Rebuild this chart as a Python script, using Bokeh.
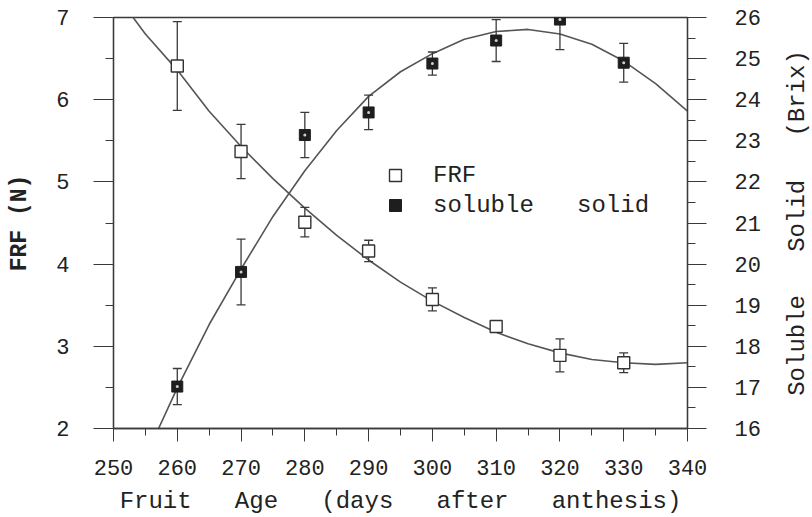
import math
from bokeh.plotting import figure
from bokeh.layouts import row
from bokeh.models import Range1d, LinearAxis, FixedTicker, Legend, LegendItem
from bokeh.embed import file_html
from bokeh.resources import INLINE

# ---- data ----
age = [260, 270, 280, 290, 300, 310, 320, 330]
frf = [6.41, 5.37, 4.51, 4.16, 3.57, 3.24, 2.89, 2.80]
frf_err = [0.54, 0.33, 0.18, 0.13, 0.14, 0.05, 0.20, 0.12]
brix = [17.02, 19.81, 23.14, 23.69, 24.88, 25.44, 25.95, 24.90]
brix_err = [0.44, 0.80, 0.55, 0.42, 0.28, 0.51, 0.73, 0.47]

# fitted curves, every 5 days
fit_age = [250, 255, 260, 265, 270, 275, 280, 285, 290, 295, 300, 305, 310, 315, 320, 325, 330, 335, 340]
frf_fit = [7.32, 6.80, 6.36, 5.86, 5.43, 5.04, 4.68, 4.35, 4.05, 3.78, 3.55, 3.35, 3.17, 3.03, 2.92, 2.84, 2.80, 2.78, 2.80]
brix_fit = [13.46, 15.30, 16.99, 18.53, 19.88, 21.16, 22.27, 23.25, 24.08, 24.68, 25.12, 25.47, 25.66, 25.71, 25.60, 25.35, 24.94, 24.39, 23.72]

x_ticks = [250, 260, 270, 280, 290, 300, 310, 320, 330, 340]
frf_ticks = [2, 3, 4, 5, 6, 7]
brix_ticks = [16, 17, 18, 19, 20, 21, 22, 23, 24, 25, 26]

NB = "\u00a0"
x_title = f"Fruit{NB*3}Age{NB*3}(days{NB*3}after{NB*3}anthesis)"
y_title = f"FRF{NB}(N)"
y2_title = f"Soluble{NB*3}Solid{NB*3}(Brix)"
legend_labels = ["FRF", f"soluble{NB*3}solid"]

FONT = "Liberation Mono"
INK = "#222222"
LINE = "#3a3a3a"

p = figure(width=772, height=517, x_range=Range1d(250, 340), y_range=Range1d(2, 7),
           output_backend="svg", toolbar_location=None,
           min_border_left=113, min_border_right=85, min_border_top=17, min_border_bottom=89,
           x_axis_location=None, y_axis_location=None)
p.extra_y_ranges = {"brix": Range1d(16, 26)}
p.xgrid.visible = False
p.ygrid.visible = False
p.outline_line_color = LINE
p.outline_line_width = 1.3
p.background_fill_color = "white"
p.border_fill_color = "white"


def style(ax, tick_out, minor_out, standoff, lab_standoff, size="22px"):
    ax.axis_line_color = LINE
    ax.axis_line_width = 1.3
    ax.major_tick_line_color = LINE
    ax.minor_tick_line_color = LINE
    ax.major_tick_in = 0
    ax.minor_tick_in = 0
    ax.major_tick_out = tick_out
    ax.minor_tick_out = minor_out
    ax.major_label_standoff = standoff
    ax.axis_label_standoff = lab_standoff
    ax.major_label_text_font = FONT
    ax.major_label_text_font_size = size
    ax.major_label_text_color = INK
    ax.axis_label_text_font = FONT
    ax.axis_label_text_color = INK
    ax.axis_label_text_font_style = "normal"


xax = LinearAxis(ticker=FixedTicker(ticks=x_ticks, minor_ticks=list(range(250, 341, 5))),
                 axis_label=x_title)
style(xax, 13, 7, 18, 10)
xax.axis_label_text_font_size = "24px"
p.add_layout(xax, "below")

yax = LinearAxis(ticker=FixedTicker(ticks=frf_ticks, minor_ticks=[2 + 0.5 * i for i in range(11)]),
                 axis_label=y_title)
style(yax, 20, 8, 24, 20)
yax.axis_label_text_font_size = "23px"
yax.axis_label_text_font_style = "bold"
p.add_layout(yax, "left")

rax = LinearAxis(y_range_name="brix",
                 ticker=FixedTicker(ticks=brix_ticks, minor_ticks=[16 + 0.5 * i for i in range(21)]))
style(rax, 19, 8, 28, 0)
p.add_layout(rax, "right")

# fitted curves
p.line(fit_age, frf_fit, line_color="#555555", line_width=1.6)
p.line(fit_age, brix_fit, line_color="#555555", line_width=1.6, y_range_name="brix")

# error bars
frf_lo = [v - e for v, e in zip(frf, frf_err)]
frf_hi = [v + e for v, e in zip(frf, frf_err)]
brix_lo = [v - e for v, e in zip(brix, brix_err)]
brix_hi = [v + e for v, e in zip(brix, brix_err)]

p.segment(age, frf_lo, age, frf_hi, line_color=LINE, line_width=1.3)
p.scatter(age, frf_lo, marker="dash", size=9, line_color=LINE, line_width=1.3)
p.scatter(age, frf_hi, marker="dash", size=9, line_color=LINE, line_width=1.3)
p.segment(age, brix_lo, age, brix_hi, line_color=LINE, line_width=1.3, y_range_name="brix")
p.scatter(age, brix_lo, marker="dash", size=9, line_color=LINE, line_width=1.3, y_range_name="brix")
p.scatter(age, brix_hi, marker="dash", size=9, line_color=LINE, line_width=1.3, y_range_name="brix")

# markers
frf_sq = p.scatter(age, frf, marker="square", size=12, fill_color="white",
                   line_color="#333333", line_width=1.4)
brix_sq = p.scatter(age, brix, marker="square", size=11, fill_color="#1e1e1e",
                    line_color="#1e1e1e", line_width=1.0, y_range_name="brix")
brix_dot = p.scatter(age, brix, marker="circle", size=3, fill_color="#cfcfcf",
                     line_color=None, y_range_name="brix")

legend = Legend(items=[LegendItem(label=legend_labels[0], renderers=[frf_sq]),
                       LegendItem(label=legend_labels[1], renderers=[brix_sq])],
                location=(267, 208), orientation="vertical",
                border_line_color=None, background_fill_alpha=0,
                padding=0, margin=0, spacing=0,
                glyph_width=30, glyph_height=30, label_height=30, label_standoff=23,
                label_text_font=FONT, label_text_font_size="24px", label_text_color=INK)
p.add_layout(legend)

# narrow strip carrying the right-hand title, read bottom to top
p2 = figure(width=40, height=517, x_range=Range1d(0, 1), y_range=Range1d(16, 26),
            output_backend="svg", toolbar_location=None,
            min_border_left=38, min_border_right=0, min_border_top=7, min_border_bottom=89,
            x_axis_location=None, y_axis_location=None)
p2.outline_line_color = None
p2.xgrid.visible = False
p2.ygrid.visible = False
p2.background_fill_color = "white"
p2.border_fill_color = "white"
tax = LinearAxis(ticker=FixedTicker(ticks=[]), axis_label=y2_title)
tax.axis_line_color = None
tax.major_tick_line_color = None
tax.minor_tick_line_color = None
tax.major_label_text_font_size = "0px"
tax.major_label_standoff = 0
tax.axis_label_standoff = 0
tax.axis_label_text_font = FONT
tax.axis_label_text_font_size = "24px"
tax.axis_label_text_font_style = "normal"
tax.axis_label_text_color = INK
p2.add_layout(tax, "left")

layout = row(p, p2, spacing=0)
open("out.html", "w").write(file_html(layout, INLINE))
